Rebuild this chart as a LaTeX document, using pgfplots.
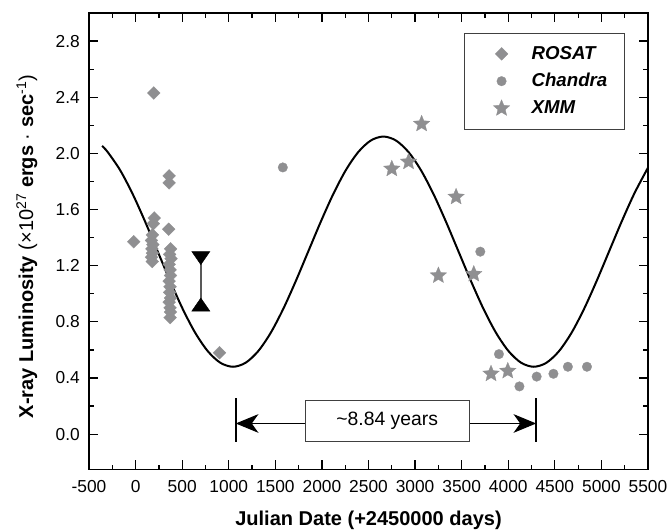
\documentclass[border=0pt]{standalone}
\usepackage{fontspec}
\setmainfont{Liberation Sans}
\usepackage{pgfplots}
\pgfplotsset{compat=1.18}
\usetikzlibrary{arrows.meta}

\definecolor{ptgray}{RGB}{143,143,145}

% filled five-pointed star
\pgfdeclareplotmark{fstar}{%
  \pgfpathmoveto{\pgfqpoint{0pt}{\pgfplotmarksize}}%
  \pgfpathlineto{\pgfqpoint{0.2645\pgfplotmarksize}{0.3641\pgfplotmarksize}}%
  \pgfpathlineto{\pgfqpoint{0.9511\pgfplotmarksize}{0.3090\pgfplotmarksize}}%
  \pgfpathlineto{\pgfqpoint{0.4280\pgfplotmarksize}{-0.1391\pgfplotmarksize}}%
  \pgfpathlineto{\pgfqpoint{0.5878\pgfplotmarksize}{-0.8090\pgfplotmarksize}}%
  \pgfpathlineto{\pgfqpoint{0pt}{-0.45\pgfplotmarksize}}%
  \pgfpathlineto{\pgfqpoint{-0.5878\pgfplotmarksize}{-0.8090\pgfplotmarksize}}%
  \pgfpathlineto{\pgfqpoint{-0.4280\pgfplotmarksize}{-0.1391\pgfplotmarksize}}%
  \pgfpathlineto{\pgfqpoint{-0.9511\pgfplotmarksize}{0.3090\pgfplotmarksize}}%
  \pgfpathlineto{\pgfqpoint{-0.2645\pgfplotmarksize}{0.3641\pgfplotmarksize}}%
  \pgfpathclose
  \pgfusepathqfillstroke
}

\begin{document}
\begin{tikzpicture}
\begin{axis}[
  name=ax,
  scale only axis, width=419pt, height=342pt,
  xmin=-500, xmax=5500, ymin=-0.25, ymax=3.0,
  xtick={-500,0,500,1000,1500,2000,2500,3000,3500,4000,4500,5000,5500},
  ytick={0,0.4,0.8,1.2,1.6,2.0,2.4,2.8},
  minor x tick num=1, minor y tick num=1,
  scaled ticks=false,
  tick align=inside, major tick length=7pt, minor tick length=3.5pt,
  axis line style={line width=1.1pt},
  every tick/.style={black, line width=0.9pt},
  tick label style={font=\fontsize{13}{15}\selectfont, /pgf/number format/assume math mode=true},
  xticklabel style={anchor=north, inner sep=0pt, yshift=-8.25pt,
    /pgf/number format/.cd, fixed, precision=0, 1000 sep={}},
  yticklabel style={anchor=east, inner sep=0pt, xshift=-6.75pt,
    /pgf/number format/.cd, fixed, fixed zerofill, precision=1},
  xlabel={\textbf{Julian Date (+2450000 days)}},
  ylabel={\textbf{X-ray Luminosity} (\texttimes10\textsuperscript{27} \textbf{ergs} \textperiodcentered\ \textbf{sec}\textsuperscript{-1})},
  label style={font=\fontsize{15}{17}\selectfont, inner sep=0pt},
  xlabel style={at={(axis description cs:0.5,0)}, anchor=base, yshift=-42pt},
  ylabel style={at={(axis description cs:0,0.5)}, anchor=base, yshift=42pt, xshift=-4pt},
  legend style={at={(0.959,0.957)}, anchor=north east, draw=black!75, line width=0.6pt,
    font=\fontsize{14}{17}\selectfont\bfseries\itshape, inner xsep=13pt, inner ysep=8pt,
    row sep=5pt, nodes={inner xsep=0pt},
    /tikz/every odd column/.append style={column sep=12.5pt}},
  legend image code/.code={%
    \path[draw=none, fill=none] (-14.75pt,-6pt) rectangle (10pt,6pt);
    \draw[#1] plot coordinates {(0pt,0pt)};},
  legend cell align=left,
]
% model curve (period ~8.84 yr)
\addplot[black, line width=1.5pt, smooth, forget plot] coordinates {
(-360,2.053) (-300.4,2.010) (-165.9,1.880) (-31.3,1.710) (103.2,1.512) (237.8,1.300)
(372.3,1.088) (506.8,0.890) (641.4,0.720) (775.9,0.590) (910.5,0.508) (1045,0.480)
(1179.5,0.508) (1314.1,0.590) (1448.6,0.720) (1583.2,0.890) (1717.7,1.088) (1852.2,1.300)
(1986.8,1.512) (2121.3,1.710) (2255.9,1.880) (2390.4,2.010) (2525.0,2.092) (2659.5,2.120)
(2794.0,2.092) (2928.6,2.010) (3063.1,1.880) (3197.6,1.710) (3332.2,1.512) (3466.7,1.300)
(3601.3,1.088) (3735.8,0.890) (3870.3,0.720) (4004.9,0.590) (4139.4,0.508) (4274.0,0.480)
(4408.5,0.508) (4543.1,0.590) (4677.6,0.720) (4812.2,0.890) (4946.7,1.088) (5081.2,1.300)
(5215.8,1.512) (5350.3,1.710) (5484.9,1.880) (5500,1.897)
};
% ROSAT
\addplot[only marks, mark=square*, mark size=3.4pt, mark options={rotate=45, fill=ptgray, draw=ptgray, line width=0.2pt}] coordinates {
(-20,1.37) (194,2.43) (200,1.54) (190,1.50) (180,1.42) (170,1.38) (185,1.35)
(175,1.32) (180,1.29) (170,1.26) (178,1.23)
(360,1.84) (360,1.79) (355,1.46) (375,1.32) (365,1.28) (380,1.25) (360,1.21)
(370,1.17) (375,1.13) (360,1.09) (370,1.05) (365,1.01) (375,0.97) (360,0.94)
(370,0.90) (375,0.87) (370,0.83) (900,0.58)
};
% Chandra
\addplot[only marks, mark=*, mark size=3.6pt, mark options={fill=ptgray, draw=ptgray, line width=0.2pt}] coordinates {
(1580,1.90) (3700,1.30) (3900,0.57) (4120,0.34) (4305,0.41) (4485,0.43) (4640,0.48) (4845,0.48)
};
% XMM
\addplot[only marks, mark=fstar, mark size=6.5pt, mark options={fill=ptgray, draw=ptgray, line width=0.2pt}] coordinates {
(3070,2.21) (2750,1.89) (2930,1.94) (3440,1.69) (3250,1.13) (3630,1.14) (3815,0.43) (3995,0.45)
};
\legend{ROSAT,Chandra,XMM}
% error bar symbol
\addplot[black!65, line width=1.2pt, forget plot] coordinates {(700,1.27) (700,0.907)};
\addplot[only marks, mark=triangle*, mark size=6.5pt, mark options={black, rotate=180, xscale=1.2}, forget plot] coordinates {(700,1.27)};
\addplot[only marks, mark=triangle*, mark size=6.5pt, mark options={black, xscale=1.2}, forget plot] coordinates {(700,0.907)};
% period annotation
\draw[line width=1.6pt] (axis cs:1075,-0.055) -- (axis cs:1075,0.256);
\draw[line width=1.6pt] (axis cs:4300,-0.055) -- (axis cs:4300,0.256);
\draw[line width=0.8pt, {Stealth[length=17pt,width=14pt,inset=5pt]}-] (axis cs:1075,0.076) -- (axis cs:1820,0.076);
\draw[line width=0.8pt, -{Stealth[length=17pt,width=14pt,inset=5pt]}] (axis cs:3582,0.076) -- (axis cs:4300,0.076);
\draw[black!75, line width=0.7pt] (axis cs:1820,-0.055) rectangle (axis cs:3582,0.242);
\node[font=\fontsize{14.5}{16}\selectfont] at (axis cs:2701,0.094) {\textasciitilde 8.84 years};
\end{axis}
\useasboundingbox ([xshift=-66.75pt,yshift=-45pt]ax.south west) rectangle ([xshift=15pt,yshift=9.75pt]ax.north east);
\end{tikzpicture}
\end{document}
